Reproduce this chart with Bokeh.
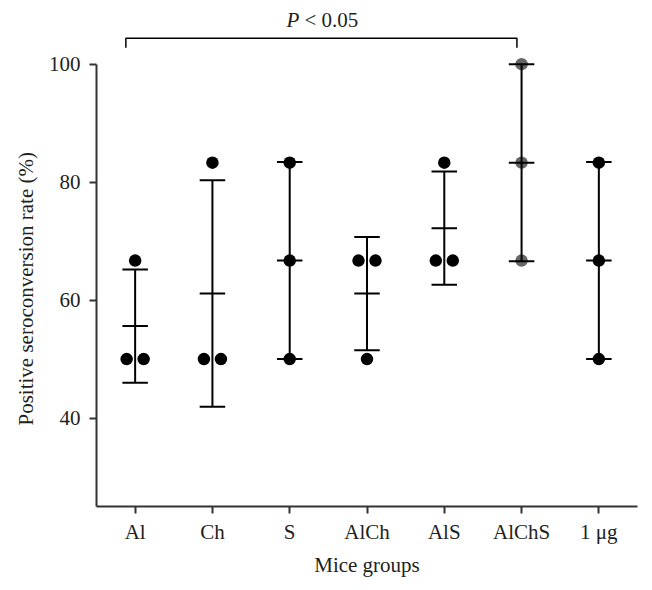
from bokeh.plotting import figure
from bokeh.models import Range1d, FixedTicker, Label, ColumnDataSource, Title
from bokeh.embed import file_html
from bokeh.resources import INLINE

# ---- data ----
groups = ["Al", "Ch", "S", "AlCh", "AlS", "AlChS", "1 \u03bcg"]
al = [50.0, 50.0, 66.7]
ch = [50.0, 50.0, 83.3]
s = [50.0, 66.7, 83.3]
alch = [66.7, 66.7, 50.0]
als = [66.7, 66.7, 83.3]
alchs = [66.7, 83.3, 100.0]
ug1 = [50.0, 66.7, 83.3]
group_values = [al, ch, s, alch, als, alchs, ug1]
means = [55.6, 61.1, 66.7, 61.1, 72.2, 83.3, 66.7]
sds = [9.6, 19.2, 16.7, 9.6, 9.6, 16.7, 16.7]
y_ticks = [40, 60, 80, 100]
y_bounds = (25, 100)
sig_pair = ("Al", "AlChS")
sig_text = "< 0.05"
x_title = "Mice groups"
y_title = "Positive seroconversion rate (%)"

FONT = "Liberation Serif"
TXT = "#231f20"
AX = "#333333"

p = figure(width=645, height=584, output_backend="svg", toolbar_location=None,
           x_range=Range1d(-0.5, 6.5), y_range=Range1d(25, 109.1),
           min_border_left=96, min_border_right=8, min_border_top=10, min_border_bottom=78)
p.outline_line_color = None
p.grid.visible = False
p.background_fill_color = "white"
p.border_fill_color = "white"

# error bars
idx = list(range(len(groups)))
cap = 0.165
lo = [m - d for m, d in zip(means, sds)]
hi = [m + d for m, d in zip(means, sds)]
p.segment(x0=idx, y0=lo, x1=idx, y1=hi, line_color="black", line_width=2)
for ys in (lo, hi, means):
    p.segment(x0=[i - cap for i in idx], y0=ys, x1=[i + cap for i in idx], y1=ys,
              line_color="black", line_width=2, line_cap="butt")

# points with jitter for duplicated values
xs, ys, alphas = [], [], []
for i, (g, vals) in enumerate(zip(groups, group_values)):
    seen = {}
    for v in vals:
        cnt = vals.count(v)
        if cnt > 1:
            k = seen.get(v, 0)
            seen[v] = k + 1
            off = -0.11 if k == 0 else 0.11
        else:
            off = 0.0
        xs.append(i + off)
        ys.append(v)
        alphas.append(0.6 if g == "AlChS" else 1.0)
src = ColumnDataSource(dict(x=xs, y=ys, a=alphas))
p.scatter("x", "y", source=src, size=12.5, fill_color="black", line_color=None, fill_alpha="a")

# significance bracket
i0 = groups.index(sig_pair[0])
i1 = groups.index(sig_pair[1])
bx0, bx1 = i0 - 0.12, i1 - 0.06
p.line(x=[bx0, bx0, bx1, bx1], y=[102.8, 104.4, 104.4, 102.8], line_color="black", line_width=1.5)
cx = (bx0 + bx1) / 2
p.add_layout(Label(x=cx, y=107.5, text="P", text_font=FONT, text_font_style="italic",
                   text_font_size="21px", text_color=TXT, text_align="right",
                   text_baseline="alphabetic", x_offset=-22))
p.add_layout(Label(x=cx, y=107.5, text=sig_text, text_font=FONT,
                   text_font_size="21px", text_color=TXT, text_align="left",
                   text_baseline="alphabetic", x_offset=-17))

# axes
p.xaxis.ticker = FixedTicker(ticks=idx)
p.xaxis.major_label_overrides = {i: g for i, g in enumerate(groups)}
p.yaxis.ticker = FixedTicker(ticks=y_ticks)
p.yaxis.bounds = y_bounds
p.xaxis.axis_label = x_title
for ax in (p.xaxis, p.yaxis):
    ax.axis_line_color = AX
    ax.axis_line_width = 2
    ax.major_tick_line_color = AX
    ax.major_tick_line_width = 2
    ax.major_tick_in = 0
    ax.major_tick_out = 7
    ax.minor_tick_line_color = None
    ax.major_label_text_font = FONT
    ax.major_label_text_font_size = "21px"
    ax.major_label_text_color = TXT
    ax.axis_label_text_font = FONT
    ax.axis_label_text_font_size = "21px"
    ax.axis_label_text_font_style = "normal"
    ax.axis_label_text_color = TXT
p.yaxis.major_label_standoff = 9
p.xaxis.major_label_standoff = 6
p.xaxis.axis_label_standoff = 6

# y title as a side title, placed along the drawn part of the axis
p.add_layout(Title(text=y_title, text_font=FONT, text_font_size="21px",
                   text_font_style="normal", text_color=TXT, align="left",
                   offset=81, standoff=16), "left")

open("out.html", "w").write(file_html(p, INLINE))
